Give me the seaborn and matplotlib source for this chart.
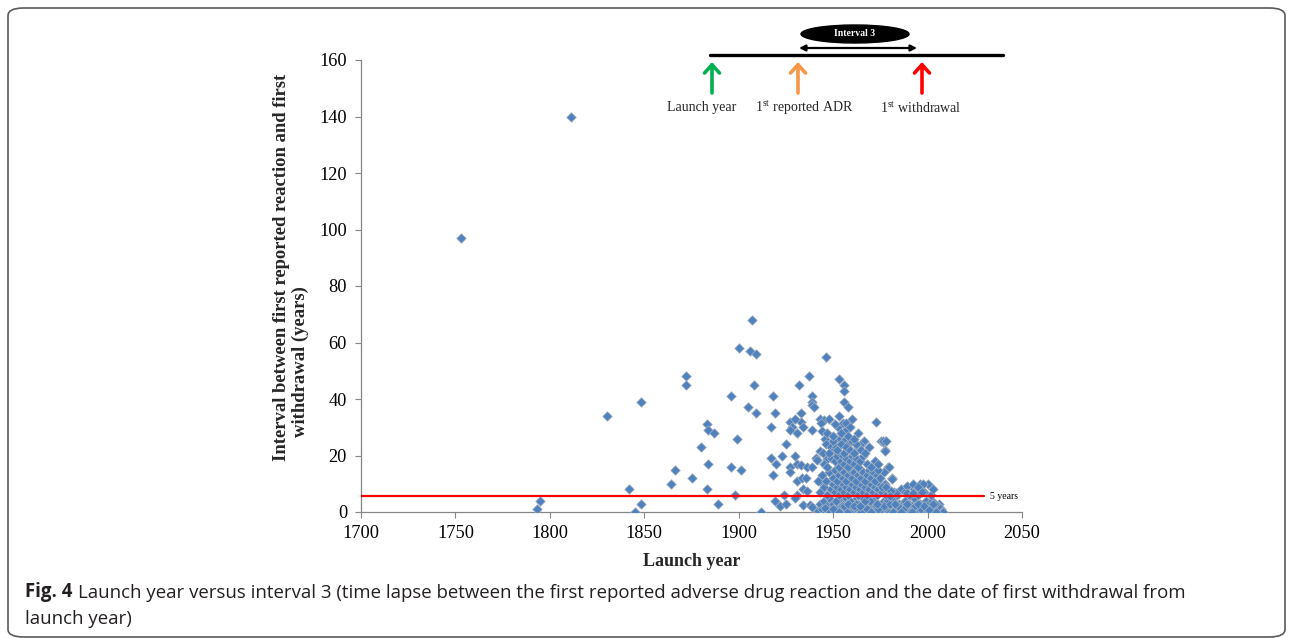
import matplotlib
matplotlib.use("Agg")
import matplotlib.pyplot as plt
import seaborn as sns
import pandas as pd
from matplotlib.patches import Ellipse, FancyBboxPatch

# ---------------- data ----------------
early_years = [1753, 1811, 1793, 1795, 1830, 1842, 1845, 1848, 1848,
               1864, 1866, 1872, 1872, 1875, 1880, 1883, 1884, 1887, 1884, 1883, 1889,
               1896, 1899, 1896, 1901, 1898, 1900, 1906, 1909, 1907, 1908, 1905, 1909, 1912]
early_vals = [97, 140, 1, 4, 34, 8, 0, 39, 3,
              10, 15, 48, 45, 12, 23, 31, 29, 28, 17, 8, 3,
              41, 26, 16, 15, 6, 58, 57, 56, 68, 45, 37, 35, 0]

mid_years = [1918, 1919, 1917, 1917, 1920, 1918, 1923, 1925, 1927, 1928, 1927, 1931, 1927, 1927,
             1930, 1931, 1931, 1919, 1922, 1925, 1924, 1931, 1930, 1932, 1933, 1933, 1937, 1946,
             1953, 1939, 1939, 1939, 1940, 1943, 1930,
             1955.6, 1956, 1955.6, 1957.7, 1945, 1943.6, 1944, 1934, 1939, 1945.6, 1946, 1952.7,
             1955, 1957, 1956.6, 1953.8, 1955.6, 1958.7, 1966.4, 1964, 1963, 1972.5, 1975.4,
             1977.5, 1976.8, 1977.5, 1979.2, 1981.3, 1933, 1936.4, 1938.6, 1933.6, 1935.7, 1934,
             1936, 1934, 1938, 1938.6, 1943, 1942, 1940.7, 1941.4, 1943, 1944.6, 1947, 1949,
             1950.4, 1951.4]
mid_vals = [41, 35, 30, 19, 17, 13, 20, 24, 32, 30, 29, 28, 16, 14,
            20, 17, 11, 4, 2, 3, 6, 6, 5, 45, 35, 32, 48, 55,
            47, 41, 39, 38, 37, 33, 33,
            45, 43, 39, 37, 32.6, 31.4, 28.8, 30, 29, 26, 24, 30,
            31.6, 29, 31.6, 26, 25, 24.8, 25, 23.6, 23, 32, 25,
            25, 24.3, 22, 16, 12, 16.5, 16, 16, 12, 12, 8,
            7.6, 2.4, 2.4, 1.9, 11, 11, 19, 18.4, 21.7, 20.8, 18.9, 23,
            22, 23]

low_years = [1942, 1943, 1944, 1945, 1946, 1947, 1948, 1949, 1950, 1951, 1952, 1953, 1954, 1955,
             1956, 1957, 1958, 1959, 1960, 1961, 1962, 1963, 1964, 1965, 1966, 1967, 1968, 1969,
             1970, 1971, 1972, 1973, 1974, 1975, 1976, 1977, 1978, 1979, 1980, 1981, 1982, 1983,
             1984, 1985, 1986, 1987, 1988, 1989, 1990, 1991, 1992, 1993, 1994, 1995, 1996, 1997,
             1998, 1999, 2000, 2001, 2002, 2003, 2004, 2005, 2006, 2007, 2008,
             1945.5, 1948.5, 1951.5, 1954.5, 1957.5, 1960.5, 1963.5, 1966.5, 1969.5, 1972.5,
             1975.5, 1978.5, 1981.5, 1984.5, 1987.5, 1990.5, 1993.5, 1996.5, 1999.5, 2002.5, 2005.5,
             1950, 1953, 1956, 1959, 1962, 1965, 1968, 1971, 1974, 1977, 1980, 1983, 1986, 1989,
             1992, 1995, 1998, 2001, 2004, 1958, 1961, 1964, 1967, 1970, 1973,
             2003, 2001, 2004.6]
low_vals = [0.5, 3, 1, 4, 0, 2, 5, 1, 3, 0, 2, 4, 1, 0,
            3, 5, 1, 2, 0, 4, 1, 3, 0, 2, 5, 1, 3, 0,
            2, 4, 1, 0, 3, 2, 0, 4, 1, 3, 0, 2, 5, 1,
            0, 3, 2, 0, 4, 1, 3, 0, 2, 5, 1, 0, 3, 2,
            0, 4, 1, 3, 0, 2, 1, 0, 3, 1, 0,
            1.5, 0, 4, 2, 0, 3, 1, 0, 4, 2,
            1, 4, 0, 2, 1, 0, 2, 1, 0, 4, 2,
            1, 0, 2, 4, 3, 0, 1, 0, 1, 2, 3, 3, 0, 3,
            0, 3, 2, 0, 3, 3, 2, 2, 4, 0, 3,
            3, 0.7, 0.1]

band_years = [1943, 1945, 1947, 1949, 1950, 1951, 1952, 1953, 1954, 1955, 1956, 1957, 1958, 1959,
              1960, 1961, 1962, 1963, 1964, 1965, 1966, 1967, 1968, 1969, 1970, 1971, 1972, 1973,
              1974, 1975, 1976, 1978, 1979, 1982, 1984, 1986, 1988, 1990, 1993, 1995, 1996, 1998,
              2000, 2002, 2003,
              1989, 1992.3, 1997.6, 1994.8, 1989, 1992.3, 1997, 1977.5, 1975.7, 1978, 1983.4,
              1980.6, 1980, 1976.4, 1978, 1977.5, 1979.6, 1981.3,
              1944, 1946, 1948, 1950, 1951, 1952, 1953, 1954, 1955, 1956, 1957, 1958, 1959, 1960,
              1961, 1962, 1963, 1964, 1965, 1966, 1967, 1968, 1969, 1970, 1971, 1972, 1973, 1975,
              1977, 1974,
              1945, 1947, 1949, 1951, 1952, 1953, 1954, 1955, 1956, 1957, 1958, 1959, 1960, 1961,
              1962, 1963, 1964, 1966, 1968, 1970, 1972, 1974,
              1948, 1950, 1952, 1954, 1956, 1957, 1959, 1960, 1961, 1962, 1965, 1967, 1969,
              1947, 1948, 1950, 1951, 1953, 1954, 1958, 1959, 1960, 1961, 1963]
band_vals = [7, 9, 6, 8, 10, 7, 9, 6, 8, 10, 7, 9, 6, 8,
             10, 7, 9, 6, 8, 10, 7, 9, 6, 8, 10, 7, 9, 6,
             8, 10, 7, 6, 8, 7, 6, 8, 7, 6, 8, 6, 10, 7,
             10, 6, 8,
             9.2, 10, 9.9, 8.7, 6.8, 6.8, 7, 10, 9, 8.7, 6.8,
             7.5, 5.7, 25, 25, 21.7, 15.8, 11.8,
             13, 11, 14, 12, 15, 11, 13, 15, 12, 14, 11, 13, 15, 12,
             14, 11, 13, 15, 12, 14, 11, 13, 15, 12, 14, 11, 13, 12,
             14, 15,
             17, 16, 19, 18, 20, 16, 18, 20, 17, 19, 16, 18, 20, 17,
             19, 16, 18, 20, 17, 16, 18, 17,
             21, 25, 22, 24, 21, 23, 22, 25, 21, 24, 22, 21, 23,
             28, 33, 27, 31, 34, 28, 27, 30, 33, 26, 28]

threshold = 5.5
x_ticks = [1700, 1750, 1800, 1850, 1900, 1950, 2000, 2050]
y_ticks = [0, 20, 40, 60, 80, 100, 120, 140, 160]

df = pd.DataFrame({
    "year": early_years + mid_years + low_years + band_years,
    "interval": early_vals + mid_vals + low_vals + band_vals,
})

# ---------------- figure ----------------
sns.set_theme(style="white")
plt.rcParams["font.family"] = ["Liberation Serif", "DejaVu Serif"]
plt.rcParams["mathtext.fontset"] = "custom"
plt.rcParams["mathtext.rm"] = "Liberation Serif"

W, H = 1293, 638
fig = plt.figure(figsize=(W / 100, H / 100), dpi=100)
ax = fig.add_axes([361 / W, 1 - 512 / H, (1022 - 361) / W, (512 - 60) / H])

def fx(x):
    return x / W

def fy(y):
    return 1 - y / H

sns.scatterplot(data=df, x="year", y="interval", marker="D", s=24, color="#4F81BD",
                edgecolor="#a9b4c2", linewidth=0.5, ax=ax, legend=False, zorder=3)

ax.plot([1700, 2030], [threshold, threshold], color="#FF0000", lw=1.6, zorder=4)
ax.text(2033, threshold, "5 years", fontsize=7, va="center", ha="left", color="black")

ax.set_xlim(1700, 2050)
ax.set_ylim(0, 160)
ax.set_xticks(x_ticks)
ax.set_yticks(y_ticks)
ax.tick_params(axis="both", direction="out", length=4, width=0.8, color="#868686",
               labelsize=13.2, labelcolor="black")
ax.tick_params(axis="x", pad=5)
ax.tick_params(axis="y", pad=6)
ax.tick_params(left=True, bottom=True)
for side in ["top", "right"]:
    ax.spines[side].set_visible(False)
for side in ["left", "bottom"]:
    ax.spines[side].set_color("#868686")
    ax.spines[side].set_linewidth(0.9)

ax.set_xlabel("Launch year", fontsize=13, fontweight="bold", labelpad=8)
ax.set_ylabel("")
# two-line y title, each line placed as in the reference
fig.text(fx(281), fy(267), "Interval between first reported reaction and first", rotation=90,
         fontsize=13.4, fontweight="bold", ha="center", va="center")
fig.text(fx(300), fy(362), "withdrawal (years)", rotation=90,
         fontsize=13.4, fontweight="bold", ha="center", va="center")

# ---------------- schematic at top ----------------
fig.add_artist(plt.Line2D([fx(710), fx(1003)], [fy(55), fy(55)], color="black", lw=2.4,
                          transform=fig.transFigure))
fig.add_artist(Ellipse((fx(855), fy(34)), 108 / W, 18 / H, color="black",
                       transform=fig.transFigure))
fig.text(fx(855), fy(34), "Interval 3", color="white", fontsize=7, fontweight="bold",
         ha="center", va="center")
ax.annotate("", xy=(fx(917), fy(48)), xytext=(fx(799), fy(48)), xycoords="figure fraction",
            textcoords="figure fraction",
            arrowprops=dict(arrowstyle="<|-|>", color="black", lw=1.6, mutation_scale=9,
                            shrinkA=0, shrinkB=0))
for xa, col in [(712, "#00B050"), (798, "#F79646"), (922, "#FF0000")]:
    ax.annotate("", xy=(fx(xa), fy(62)), xytext=(fx(xa), fy(93)), xycoords="figure fraction",
                textcoords="figure fraction",
                arrowprops=dict(arrowstyle="->,head_length=0.5,head_width=0.45", color=col,
                                lw=2.6, shrinkA=0, shrinkB=0))
fig.text(fx(702), fy(108), "Launch year", fontsize=10, ha="center", va="center")
fig.text(fx(804), fy(108), r"1$^{\rm st}$ reported ADR", fontsize=10, ha="center", va="center")
fig.text(fx(921), fy(108), r"1$^{\rm st}$ withdrawal", fontsize=10, ha="center", va="center")

# ---------------- caption and frame ----------------
cap_font = ["Open Sans", "DejaVu Sans"]
t1 = fig.text(fx(25), fy(597), "Fig. 4", fontsize=13.4, fontweight="bold", family=cap_font,
              color="#231f20", va="baseline", ha="left")
ax.annotate("Launch year versus interval 3 (time lapse between the first reported adverse drug "
            "reaction and the date of first withdrawal from",
            xy=(1, 0), xycoords=t1, xytext=(4, 0), textcoords="offset points",
            fontsize=13.4, family=cap_font, color="#231f20", va="bottom", ha="left",
            annotation_clip=False)
fig.text(fx(25), fy(624), "launch year)", fontsize=13.4, family=cap_font, color="#231f20",
         va="baseline", ha="left")

frame = FancyBboxPatch((fx(8), fy(637)), fx(1277), (637 - 8) / H,
                       boxstyle="round,pad=0,rounding_size=0.012", transform=fig.transFigure,
                       facecolor="none", edgecolor="#5a5a5a", lw=1.2)
fig.add_artist(frame)

fig.savefig("out.png", dpi=100)
